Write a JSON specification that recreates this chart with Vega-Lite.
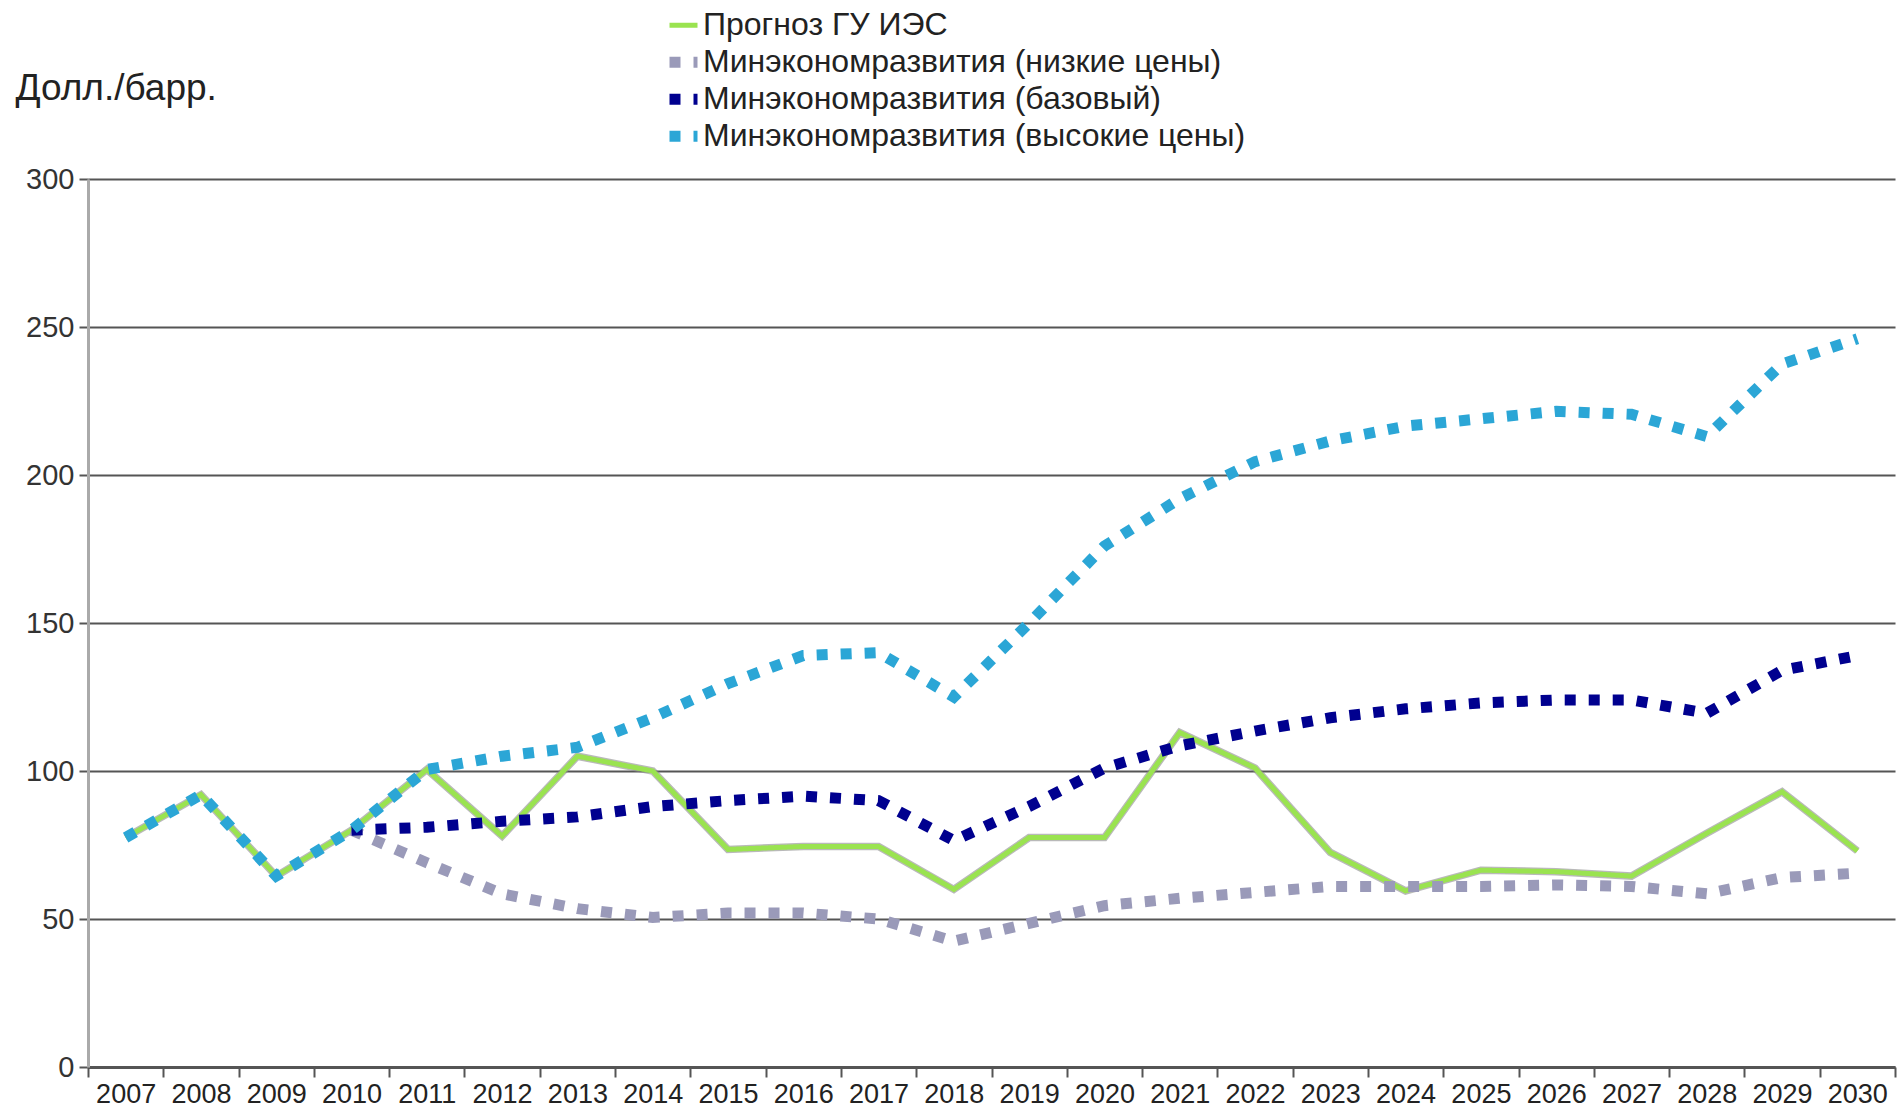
{
  "$schema": "https://vega.github.io/schema/vega-lite/v6.json",
  "autosize": {"type": "none"},
  "padding": {"left": 88, "top": 179, "right": 6, "bottom": 50},
  "width": 1807,
  "height": 888,
  "background": "white",
  "config": {
    "view": {"stroke": null},
    "font": "Liberation Sans"
  },
  "datasets": {
    "series": [
      {"series": "Прогноз ГУ ИЭС", "year": "2007", "value": 77.5},
      {"series": "Прогноз ГУ ИЭС", "year": "2008", "value": 92},
      {"series": "Прогноз ГУ ИЭС", "year": "2009", "value": 64.5},
      {"series": "Прогноз ГУ ИЭС", "year": "2010", "value": 80},
      {"series": "Прогноз ГУ ИЭС", "year": "2011", "value": 100.5},
      {"series": "Прогноз ГУ ИЭС", "year": "2012", "value": 78},
      {"series": "Прогноз ГУ ИЭС", "year": "2013", "value": 105},
      {"series": "Прогноз ГУ ИЭС", "year": "2014", "value": 100},
      {"series": "Прогноз ГУ ИЭС", "year": "2015", "value": 73.5},
      {"series": "Прогноз ГУ ИЭС", "year": "2016", "value": 74.5},
      {"series": "Прогноз ГУ ИЭС", "year": "2017", "value": 74.5},
      {"series": "Прогноз ГУ ИЭС", "year": "2018", "value": 60},
      {"series": "Прогноз ГУ ИЭС", "year": "2019", "value": 77.5},
      {"series": "Прогноз ГУ ИЭС", "year": "2020", "value": 77.5},
      {"series": "Прогноз ГУ ИЭС", "year": "2021", "value": 113},
      {"series": "Прогноз ГУ ИЭС", "year": "2022", "value": 101},
      {"series": "Прогноз ГУ ИЭС", "year": "2023", "value": 72.5},
      {"series": "Прогноз ГУ ИЭС", "year": "2024", "value": 59.5},
      {"series": "Прогноз ГУ ИЭС", "year": "2025", "value": 66.5},
      {"series": "Прогноз ГУ ИЭС", "year": "2026", "value": 66},
      {"series": "Прогноз ГУ ИЭС", "year": "2027", "value": 64.5},
      {"series": "Прогноз ГУ ИЭС", "year": "2028", "value": 79},
      {"series": "Прогноз ГУ ИЭС", "year": "2029", "value": 93},
      {"series": "Прогноз ГУ ИЭС", "year": "2030", "value": 73},

      {"series": "Минэкономразвития (низкие цены)", "year": "2010", "value": 80},
      {"series": "Минэкономразвития (низкие цены)", "year": "2011", "value": 69},
      {"series": "Минэкономразвития (низкие цены)", "year": "2012", "value": 58.5},
      {"series": "Минэкономразвития (низкие цены)", "year": "2013", "value": 53.5},
      {"series": "Минэкономразвития (низкие цены)", "year": "2014", "value": 50.5},
      {"series": "Минэкономразвития (низкие цены)", "year": "2015", "value": 52},
      {"series": "Минэкономразвития (низкие цены)", "year": "2016", "value": 52},
      {"series": "Минэкономразвития (низкие цены)", "year": "2017", "value": 50},
      {"series": "Минэкономразвития (низкие цены)", "year": "2018", "value": 42.5},
      {"series": "Минэкономразвития (низкие цены)", "year": "2019", "value": 48.5},
      {"series": "Минэкономразвития (низкие цены)", "year": "2020", "value": 54.5},
      {"series": "Минэкономразвития (низкие цены)", "year": "2021", "value": 57},
      {"series": "Минэкономразвития (низкие цены)", "year": "2022", "value": 59},
      {"series": "Минэкономразвития (низкие цены)", "year": "2023", "value": 61},
      {"series": "Минэкономразвития (низкие цены)", "year": "2024", "value": 61},
      {"series": "Минэкономразвития (низкие цены)", "year": "2025", "value": 61},
      {"series": "Минэкономразвития (низкие цены)", "year": "2026", "value": 61.5},
      {"series": "Минэкономразвития (низкие цены)", "year": "2027", "value": 61},
      {"series": "Минэкономразвития (низкие цены)", "year": "2028", "value": 58.5},
      {"series": "Минэкономразвития (низкие цены)", "year": "2029", "value": 64},
      {"series": "Минэкономразвития (низкие цены)", "year": "2030", "value": 65.5},

      {"series": "Минэкономразвития (базовый)", "year": "2010", "value": 80},
      {"series": "Минэкономразвития (базовый)", "year": "2011", "value": 81},
      {"series": "Минэкономразвития (базовый)", "year": "2012", "value": 83},
      {"series": "Минэкономразвития (базовый)", "year": "2013", "value": 84.5},
      {"series": "Минэкономразвития (базовый)", "year": "2014", "value": 88},
      {"series": "Минэкономразвития (базовый)", "year": "2015", "value": 90},
      {"series": "Минэкономразвития (базовый)", "year": "2016", "value": 91.5},
      {"series": "Минэкономразвития (базовый)", "year": "2017", "value": 90},
      {"series": "Минэкономразвития (базовый)", "year": "2018", "value": 76.5},
      {"series": "Минэкономразвития (базовый)", "year": "2019", "value": 88},
      {"series": "Минэкономразвития (базовый)", "year": "2020", "value": 101},
      {"series": "Минэкономразвития (базовый)", "year": "2021", "value": 108.5},
      {"series": "Минэкономразвития (базовый)", "year": "2022", "value": 113.5},
      {"series": "Минэкономразвития (базовый)", "year": "2023", "value": 118},
      {"series": "Минэкономразвития (базовый)", "year": "2024", "value": 121},
      {"series": "Минэкономразвития (базовый)", "year": "2025", "value": 123},
      {"series": "Минэкономразвития (базовый)", "year": "2026", "value": 124},
      {"series": "Минэкономразвития (базовый)", "year": "2027", "value": 124},
      {"series": "Минэкономразвития (базовый)", "year": "2028", "value": 119.5},
      {"series": "Минэкономразвития (базовый)", "year": "2029", "value": 134},
      {"series": "Минэкономразвития (базовый)", "year": "2030", "value": 139},

      {"series": "Минэкономразвития (высокие цены)", "year": "2007", "value": 77.5},
      {"series": "Минэкономразвития (высокие цены)", "year": "2008", "value": 92},
      {"series": "Минэкономразвития (высокие цены)", "year": "2009", "value": 64.5},
      {"series": "Минэкономразвития (высокие цены)", "year": "2010", "value": 80},
      {"series": "Минэкономразвития (высокие цены)", "year": "2011", "value": 100.5},
      {"series": "Минэкономразвития (высокие цены)", "year": "2012", "value": 105},
      {"series": "Минэкономразвития (высокие цены)", "year": "2013", "value": 108},
      {"series": "Минэкономразвития (высокие цены)", "year": "2014", "value": 118},
      {"series": "Минэкономразвития (высокие цены)", "year": "2015", "value": 129.5},
      {"series": "Минэкономразвития (высокие цены)", "year": "2016", "value": 139},
      {"series": "Минэкономразвития (высокие цены)", "year": "2017", "value": 140},
      {"series": "Минэкономразвития (высокие цены)", "year": "2018", "value": 125},
      {"series": "Минэкономразвития (высокие цены)", "year": "2019", "value": 150},
      {"series": "Минэкономразвития (высокие цены)", "year": "2020", "value": 176},
      {"series": "Минэкономразвития (высокие цены)", "year": "2021", "value": 192},
      {"series": "Минэкономразвития (высокие цены)", "year": "2022", "value": 204.5},
      {"series": "Минэкономразвития (высокие цены)", "year": "2023", "value": 211.5},
      {"series": "Минэкономразвития (высокие цены)", "year": "2024", "value": 216.5},
      {"series": "Минэкономразвития (высокие цены)", "year": "2025", "value": 219},
      {"series": "Минэкономразвития (высокие цены)", "year": "2026", "value": 221.5},
      {"series": "Минэкономразвития (высокие цены)", "year": "2027", "value": 220.5},
      {"series": "Минэкономразвития (высокие цены)", "year": "2028", "value": 213},
      {"series": "Минэкономразвития (высокие цены)", "year": "2029", "value": 237.5},
      {"series": "Минэкономразвития (высокие цены)", "year": "2030", "value": 246}
    ]
  },
  "data": {"name": "series"},
  "encoding": {
    "x": {
      "field": "year",
      "type": "ordinal",
      "bandPosition": 0.5,
      "scale": {"type": "band", "paddingInner": 0, "paddingOuter": 0},
      "axis": {
        "title": null,
        "labelAngle": 0,
        "labelFontSize": 27,
        "labelColor": "#222",
        "labelPadding": 4,
        "tickBand": "extent",
        "tickSize": 10,
        "tickWidth": 2,
        "tickColor": "#555",
        "domainColor": "#555",
        "domainWidth": 3,
        "grid": false
      }
    },
    "y": {
      "field": "value",
      "type": "quantitative",
      "scale": {"domain": [0, 300], "nice": false},
      "axis": {
        "values": [0, 50, 100, 150, 200, 250, 300],
        "title": "Долл./барр.",
        "titleAngle": 0,
        "titleAlign": "left",
        "titleBaseline": "alphabetic",
        "titleX": -73,
        "titleY": -80,
        "titleFontSize": 37,
        "titleFontWeight": "normal",
        "titleColor": "#222",
        "labelFontSize": 29,
        "labelColor": "#333",
        "labelPadding": 5,
        "tickSize": 9,
        "tickWidth": 2,
        "tickColor": "#555",
        "domainColor": "#aaa",
        "domainWidth": 3,
        "grid": true,
        "gridColor": "#555",
        "gridWidth": 2
      }
    }
  },
  "layer": [
    {
      "transform": [{"filter": "datum.series === 'Прогноз ГУ ИЭС'"}],
      "mark": {"type": "line", "color": "#8a8a8a", "strokeWidth": 7.5, "opacity": 0.6}
    },
    {
      "mark": {"type": "line", "strokeCap": "butt"},
      "encoding": {
        "color": {
          "field": "series",
          "type": "nominal",
          "scale": {
            "domain": ["Прогноз ГУ ИЭС", "Минэкономразвития (низкие цены)", "Минэкономразвития (базовый)", "Минэкономразвития (высокие цены)"],
            "range": ["#9ae350", "#9a9ab9", "#00008f", "#2ba6d6"]
          },
          "legend": {
            "title": null,
            "orient": "none",
            "legendX": 576,
            "legendY": -172,
            "symbolType": "stroke",
            "symbolSize": 784,
            "labelFontSize": 32,
            "labelColor": "#222",
            "labelOffset": 0,
            "labelLimit": 0,
            "clipHeight": 36.5,
            "rowPadding": 0,
            "padding": 0
          }
        },
        "strokeWidth": {
          "field": "series",
          "type": "nominal",
          "scale": {
            "type": "ordinal",
            "domain": ["Прогноз ГУ ИЭС", "Минэкономразвития (низкие цены)", "Минэкономразвития (базовый)", "Минэкономразвития (высокие цены)"],
            "range": [5, 11, 11, 11]
          },
          "legend": null
        },
        "strokeDash": {
          "field": "series",
          "type": "nominal",
          "scale": {
            "domain": ["Прогноз ГУ ИЭС", "Минэкономразвития (низкие цены)", "Минэкономразвития (базовый)", "Минэкономразвития (высокие цены)"],
            "range": [[1, 0], [11, 13], [11, 13], [11, 13]]
          },
          "legend": null
        }
      }
    }
  ]
}
